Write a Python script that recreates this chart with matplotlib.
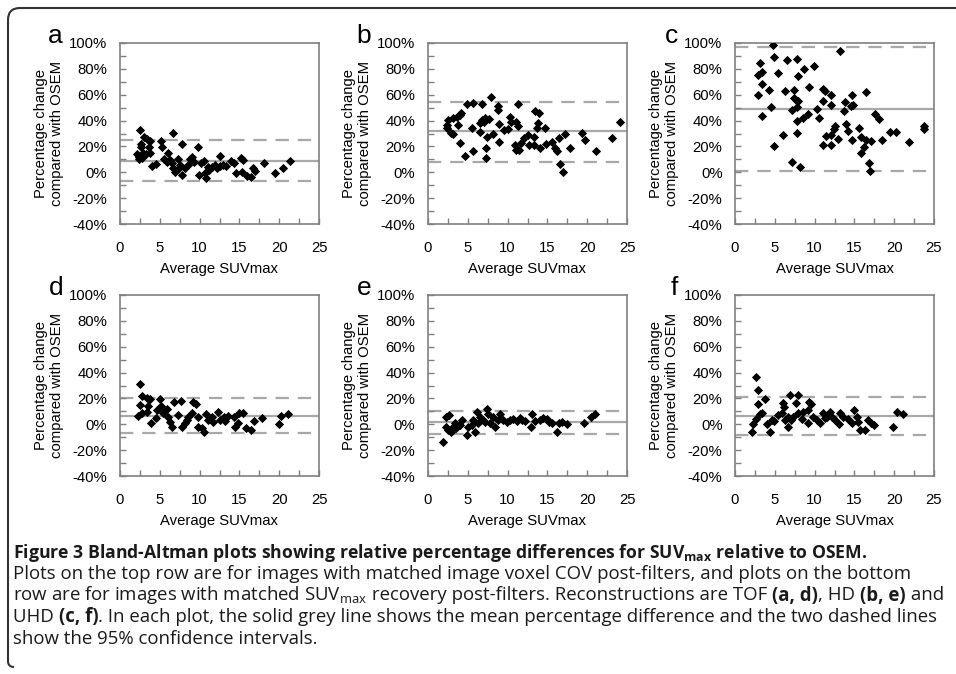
import matplotlib.pyplot as plt
from matplotlib.path import Path
from matplotlib.patches import PathPatch
from matplotlib.ticker import MultipleLocator, FuncFormatter

plt.rcParams['font.family'] = ['Liberation Sans', 'DejaVu Sans']

# panel a (TOF, matched COV)
a_x = [2.48, 3.03, 3.45, 3.75, 2.69, 2.61, 3.62, 2.19, 2.9, 3.32, 3.75, 2.36, 2.78, 3.96, 4.46,
       5.13, 5.22, 6.69, 5.98, 5.56, 5.85, 6.27, 6.48, 6.69, 6.9, 7.24, 7.83, 7.83, 7.53, 7.32,
       8.5, 8.8, 9.09, 9.34, 9.85, 9.93, 10.2, 10.6, 10.7, 10.8, 11.0, 11.2, 11.5, 11.9, 12.2,
       12.5, 12.6, 12.9, 13.3, 14.0, 14.3, 14.6, 15.2, 15.5, 15.3, 15.9, 16.5, 16.7, 17.0, 18.1,
       19.5, 20.5, 21.3, 2.4, 8.2]
a_y = [32.7, 27.5, 25.5, 24.5, 21.9, 19.8, 19.8, 14.2, 15.2, 14.2, 14.7, 10.0, 10.8, 4.9, 6.2,
       24.2, 19.3, 30.6, 15.2, 10.0, 8.2, 9.6, 7.0, 3.1, 0.5, 2.6, -2.1, 21.6, 5.8, 10.0,
       5.8, 10.0, 11.6, 8.2, 19.8, -2.1, 7.5, 9.1, -0.8, -4.6, 4.3, 1.8, 3.9, 5.8, 3.1,
       12.9, 4.9, 5.8, 4.9, 8.7, 7.0, -0.8, 10.8, 9.6, 0.5, -2.9, -3.9, 3.1, 1.3, 7.0,
       -0.3, 3.1, 8.7, 11.6, 3.1]

# panel b (HD, matched COV)
b_x = [2.36, 2.44, 2.57, 2.86, 3.11, 3.2, 3.62, 3.96, 4.12, 3.83, 3.96, 4.59, 4.88, 5.64, 5.64,
       5.51, 6.78, 6.57, 6.57, 6.78, 6.99, 7.2, 7.41, 7.32, 7.32, 7.95, 8.16, 7.62, 8.75, 8.75,
       8.88, 8.88, 9.51, 10.1, 10.3, 10.4, 11.0, 11.3, 11.3, 10.9, 11.1, 11.4, 11.7, 12.0, 12.5,
       12.7, 13.3, 13.3, 13.5, 13.9, 13.8, 13.7, 14.7, 14.1, 14.8, 15.6, 15.9, 16.2, 16.4, 16.6,
       16.9, 17.2, 17.9, 19.4, 19.7, 21.1, 23.1, 24.1]
b_y = [36.6, 34.0, 40.4, 30.2, 29.6, 41.8, 43.0, 44.3, 45.6, 36.6, 22.4, 12.6, 52.8, 53.3, 16.7,
       34.0, 52.8, 37.9, 31.4, 40.4, 39.2, 41.8, 27.5, 18.6, 10.8, 58.0, 29.6, 41.0, 51.3, 48.2,
       37.4, 23.7, 32.7, 33.2, 43.0, 39.2, 39.2, 36.1, 52.5, 21.1, 17.2, 17.2, 22.4, 26.3, 28.9,
       21.1, 27.0, 21.1, 47.4, 46.1, 38.4, 34.0, 34.5, 19.1, 21.9, 23.7, 18.6, 16.7, 26.3, 6.2,
       0.5, 29.9, 18.6, 30.4, 25.3, 16.4, 26.3, 39.2]

# panel c (UHD, matched COV)
c_x = [4.73, 4.94, 3.14, 3.35, 2.85, 5.44, 6.57, 7.75, 7.96, 8.71, 9.97, 13.2, 3.43, 4.27, 2.93,
       6.28, 7.45, 7.45, 7.75, 7.96, 9.3, 11.1, 11.3, 12.1, 11.1, 12.1, 4.52, 7.75, 7.2, 10.3,
       3.43, 9.13, 8.58, 7.79, 10.6, 6.07, 7.79, 4.9, 7.2, 8.17, 13.8, 14.7, 14.6, 14.8, 13.7,
       16.5, 13.9, 14.2, 12.6, 12.4, 12.1, 11.4, 11.1, 12.1, 12.9, 14.7, 15.6, 15.8, 16.5, 17.1,
       16.2, 15.8, 16.8, 17.0, 17.6, 18.1, 18.5, 19.5, 20.2, 21.9, 23.7, 23.8]
c_y = [98.2, 89.2, 84.5, 77.6, 75.0, 77.1, 87.1, 87.9, 74.8, 80.1, 82.2, 93.6, 68.3, 63.4, 60.0,
       62.6, 63.9, 57.5, 55.5, 54.9, 66.0, 64.6, 63.1, 59.5, 54.9, 51.8, 50.6, 50.6, 48.4, 48.6,
       43.3, 45.1, 42.0, 39.4, 42.0, 29.1, 30.4, 20.1, 7.7, 3.8, 54.4, 59.5, 50.9, 51.8, 47.2,
       62.1, 37.4, 32.2, 35.6, 33.8, 29.1, 28.4, 21.4, 20.9, 26.0, 25.3, 34.3, 27.1, 25.3, 24.0,
       19.6, 14.9, 7.2, 0.8, 45.1, 41.6, 25.3, 31.2, 31.0, 23.2, 35.6, 33.8]

# panel d (TOF, matched recovery)
d_x = [2.48, 2.82, 3.33, 3.74, 2.48, 3.53, 2.27, 2.78, 3.33, 3.87, 4.46, 5.01, 5.13, 5.43, 5.85,
       5.98, 6.27, 6.57, 6.82, 7.24, 7.66, 7.83, 8.38, 8.58, 9.22, 9.51, 9.01, 9.77, 9.85, 10.3,
       10.6, 10.8, 11.1, 11.5, 11.7, 12.3, 12.6, 13.2, 13.6, 14.3, 14.4, 15.0, 15.4, 14.8, 15.8,
       16.5, 16.8, 17.9, 20.0, 20.2, 21.1, 4.6, 8.2, 13.1]
d_y = [31.2, 21.9, 20.6, 19.8, 14.9, 14.2, 6.4, 9.0, 9.8, 1.3, 4.6, 19.8, 14.2, 8.5, 11.6,
       5.9, 2.0, -1.8, 17.5, 7.5, 18.0, -2.3, 3.3, 5.9, 17.5, 15.7, 9.0, 5.9, -2.3, -3.1,
       -5.7, 8.0, 3.3, 5.9, 2.0, 9.8, 3.3, 2.8, 6.4, 5.4, -2.3, 9.0, 8.5, 0.8, -3.1,
       -4.4, 2.8, 5.1, 0.2, 6.4, 7.7, 11.1, 1.3, 5.9]

# panel e (HD, matched recovery)
e_x = [1.89, 2.31, 2.65, 2.31, 2.52, 2.95, 3.16, 3.37, 3.58, 4.0, 4.21, 4.84, 5.05, 5.47, 5.68,
       5.89, 6.1, 6.31, 6.52, 6.94, 7.15, 7.36, 7.58, 7.79, 8.21, 8.42, 8.84, 9.05, 9.47, 9.89,
       10.3, 10.7, 11.2, 11.6, 11.8, 12.2, 12.9, 13.1, 13.5, 14.1, 14.5, 15.0, 15.2, 15.6, 16.2,
       16.4, 16.8, 17.5, 19.6, 20.5, 21.0]
e_y = [-13.4, 5.9, 7.1, -1.8, -4.4, -5.7, -1.8, 0.8, -3.1, -0.5, 3.3, -8.3, -1.8, -0.5, 3.3,
       -5.7, 9.8, 0.8, 5.9, 3.3, 2.0, 11.6, 8.0, 0.8, 5.9, -1.8, 3.3, 8.0, 3.3, 2.0,
       3.3, 3.8, 2.8, 4.6, 3.3, 2.8, -1.8, 8.0, 2.8, 3.3, 4.6, 3.8, 2.0, 0.8, -5.7,
       0.8, 2.0, 0.2, 1.3, 5.9, 7.7]

# panel f (UHD, matched recovery)
f_x = [2.6, 2.93, 2.93, 3.77, 2.09, 2.3, 2.6, 3.14, 3.43, 3.98, 4.4, 4.61, 4.94, 5.44, 5.86,
       6.07, 6.2, 6.28, 6.62, 6.7, 6.91, 7.04, 7.33, 7.62, 7.87, 7.96, 8.38, 8.58, 9.13, 9.3,
       9.55, 9.21, 9.84, 10.3, 10.7, 11.0, 11.3, 11.6, 11.9, 12.2, 12.6, 13.1, 13.2, 13.6, 14.2,
       14.7, 15.0, 15.3, 15.4, 15.7, 16.3, 16.7, 17.1, 17.4, 19.8, 20.3, 21.1]
f_y = [36.3, 26.5, 15.5, 19.3, -5.7, 0.2, 3.9, 8.0, 9.0, 0.2, -5.7, 3.3, 2.8, 7.1, 8.5,
       16.7, 13.1, 3.3, 5.9, -2.3, 22.7, 3.3, 5.9, 16.2, 22.7, 9.0, 3.9, 9.8, 11.1, 17.5,
       15.5, 0.8, 5.9, 3.3, 0.8, 9.0, 4.6, 5.9, 9.8, 5.4, 3.3, 0.2, 8.5, 5.9, 3.9,
       0.8, 11.1, 5.9, 2.0, -4.4, -4.4, 3.3, 0.8, -0.5, -2.3, 9.8, 7.7]

# mean difference and 95% limits per panel
mean_diff = [8.7, 31.9, 49.0, 6.7, 1.5, 6.4]
upper_lim = [25.0, 54.6, 96.7, 20.6, 10.3, 21.4]
lower_lim = [-6.7, 8.2, 0.8, -7.0, -7.2, -8.3]
letters = ['a', 'b', 'c', 'd', 'e', 'f']

xs = [a_x, b_x, c_x, d_x, e_x, f_x]
ys = [a_y, b_y, c_y, d_y, e_y, f_y]

W, H = 956, 674
fig = plt.figure(figsize=(W / 100, H / 100), dpi=100)

lefts = [120, 428, 735]
tops = [43, 295]
aw, ah = 199, 181
grey = '#a8a8a8'
spine_col = '#808080'

for i in range(6):
    col, row = i % 3, i // 3
    l, t = lefts[col], tops[row]
    ax = fig.add_axes([l / W, (H - t - ah) / H, aw / W, ah / H])

    ax.axhline(mean_diff[i], color=grey, lw=1.6, zorder=1)
    ax.axhline(upper_lim[i], color=grey, lw=1.6, ls=(0, (6, 4)), zorder=1)
    ax.axhline(lower_lim[i], color=grey, lw=1.6, ls=(0, (6, 4)), zorder=1)
    ax.scatter(xs[i], ys[i], marker='D', s=22, color='black', lw=0, zorder=3)

    ax.set_xlim(0, 25)
    ax.set_ylim(-40, 100)
    ax.xaxis.set_major_locator(MultipleLocator(5))
    ax.xaxis.set_minor_locator(MultipleLocator(2.5))
    ax.yaxis.set_major_locator(MultipleLocator(20))
    ax.yaxis.set_minor_locator(MultipleLocator(10))
    ax.yaxis.set_major_formatter(FuncFormatter(lambda v, p: f'{v:.0f}%'))
    ax.tick_params(which='both', direction='in', length=4, width=1, color=spine_col,
                   labelsize=10.7, top=False, right=False)
    ax.tick_params(axis='y', pad=9)
    ax.tick_params(axis='x', pad=12)
    for s in ax.spines.values():
        s.set_color(spine_col)
        s.set_linewidth(1.2)

    ax.set_xlabel('Average SUVmax', fontsize=10.7, labelpad=5)
    ax.set_ylabel('Percentage change\ncompared with OSEM', fontsize=10.7)
    ax.yaxis.set_label_coords(-0.28, 0.5)
    fig.text((l - 57) / W, (H - t) / H, letters[i], fontsize=19, ha='right', va='baseline')

# caption, drawn piece by piece so the panel letters can be bold
cap_font = ['Open Sans', 'DejaVu Sans']
renderer = fig.canvas.get_renderer()


def draw_line(y_px, pieces, size):
    x = 13
    for txt, weight in pieces:
        t = fig.text(x / W, (H - y_px) / H, txt, fontsize=size, fontweight=weight,
                     family=cap_font, va='baseline', color='#1a1a1a')
        x += t.get_window_extent(renderer).width


sub = r'SUV$_{\mathregular{max}}$'
draw_line(558, [('Figure 3 Bland-Altman plots showing relative percentage differences for '
                 + sub + ' relative to OSEM.', 'bold')], 12.7)
cap_lines = [
    [('Plots on the top row are for images with matched image voxel COV post-filters, and plots on the bottom', 'normal')],
    [('row are for images with matched ' + sub, 'normal'),
     (' recovery post-filters. Reconstructions are TOF ', 'normal'),
     ('(a, d)', 'bold'), (', HD ', 'normal'), ('(b, e)', 'bold'), (' and', 'normal')],
    [('UHD ', 'normal'), ('(c, f)', 'bold'),
     ('. In each plot, the solid grey line shows the mean percentage difference and the two dashed lines', 'normal')],
    [('show the 95% confidence intervals.', 'normal')],
]
for k, pieces in enumerate(cap_lines):
    draw_line(579 + 21.5 * k, pieces, 13.4)

# rounded frame on the left and top
verts = [(14, 667), (8, 667), (8, 661), (8, 20), (8, 8), (20, 8), (960, 8)]
codes = [Path.MOVETO, Path.CURVE3, Path.CURVE3, Path.LINETO, Path.CURVE3, Path.CURVE3, Path.LINETO]
verts = [(x / W, 1 - y / H) for x, y in verts]
fig.patches.append(PathPatch(Path(verts, codes), transform=fig.transFigure,
                             fill=False, lw=1.5, edgecolor='#333333'))

fig.savefig('out.png', dpi=100)
